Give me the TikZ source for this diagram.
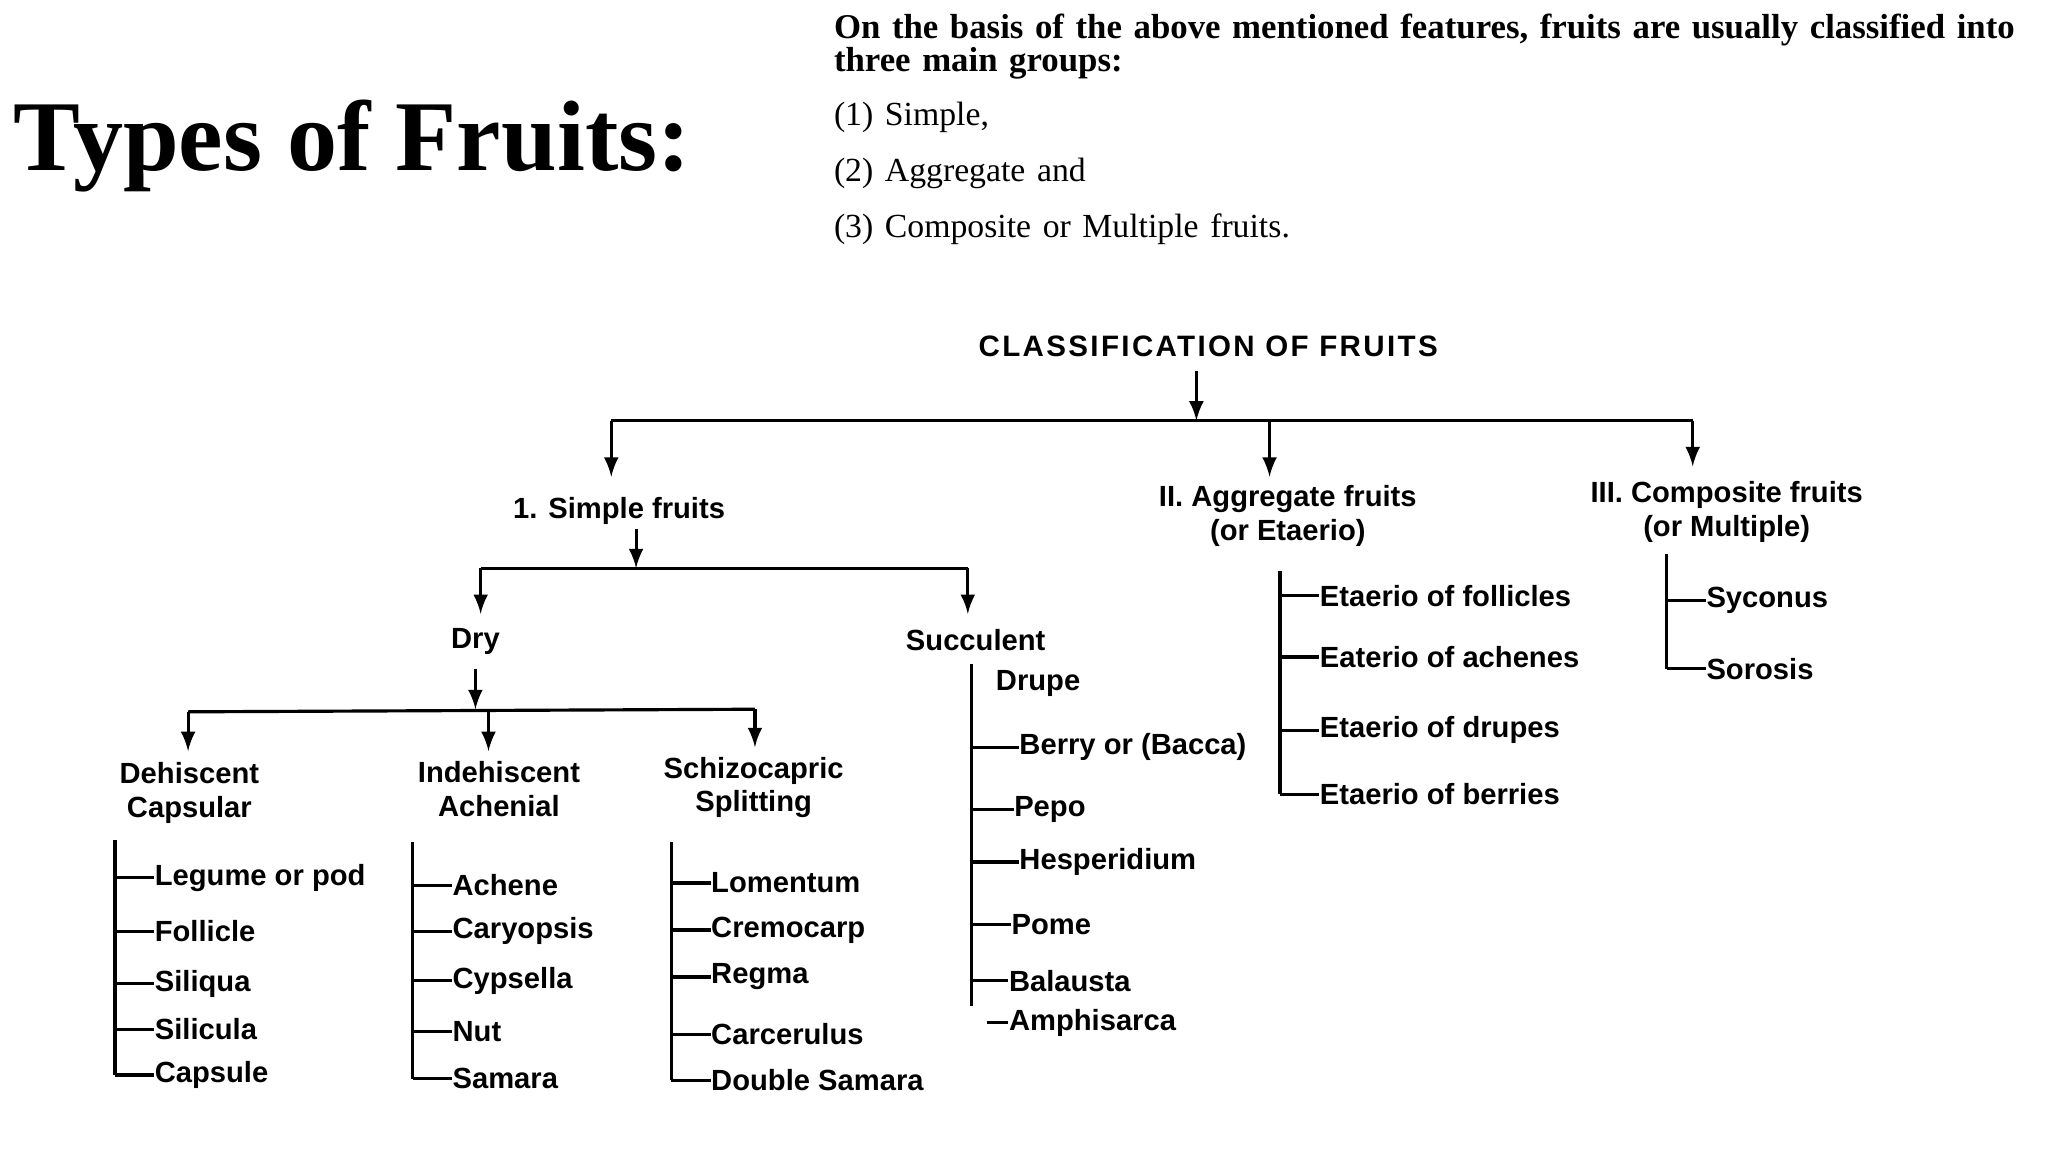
\documentclass[tikz,border=0pt]{standalone}
\usepackage{fontspec}
\setmainfont{Liberation Serif}
\newfontfamily\dsans{Liberation Sans}
\begin{document}
\begin{tikzpicture}[x=0.01306cm,y=-0.01306cm,
  lab/.style={font=\dsans\bfseries\fontsize{8.3}{9.6}\selectfont, inner sep=0pt, align=center},
  item/.style={font=\dsans\bfseries\fontsize{8.3}{9.6}\selectfont, inner sep=0pt, anchor=west},
  ln/.style={line width=0.9pt},
  arr/.style={line width=0.9pt,-latex}]
\useasboundingbox (0,0) rectangle (1568,882);
\fill[white] (0,0) rectangle (1568,882);
\node[anchor=west,inner sep=0pt,font=\bfseries\fontsize{28.5}{31}\selectfont] (title) at (10,112) {Types of Fruits:};
\node[anchor=north west,inner sep=0pt,align=left,text width=12.2cm,font=\fontsize{9.9}{9.4}\selectfont] (intro) at (638,10)
 {\textbf{On the basis of the above mentioned features, fruits are usually classified into three main groups:}\\[6pt]
 \fontsize{9.6}{9.4}\selectfont (1) Simple,\\[6.5pt] (2) Aggregate and\\[6.5pt] (3) Composite or Multiple fruits.};
% level 0
\node[lab,font=\dsans\bfseries\fontsize{8.4}{9.6}\selectfont\addfontfeature{LetterSpace=8}] (root) at (925,265) {CLASSIFICATION OF FRUITS};
\coordinate (r0) at (916,284); \coordinate (r1) at (916,322);
\draw[arr] (r0) -- (r1);
\coordinate (h1) at (468,322); \coordinate (h2) at (1296,322);
\draw[ln] (h1) -- (h2);
\node[lab] (simple) at (474,391) {1. Simple fruits};
\node[lab] (aggr) at (986,395) {II. Aggregate fruits\\(or Etaerio)};
\node[lab] (comp) at (1322,392) {III. Composite fruits\\(or Multiple)};
\coordinate (a1) at (468,365); \coordinate (a2) at (972,365); \coordinate (a3) at (1296,357);
\coordinate (m2) at (972,322);
\draw[arr] (h1) -- (a1); \draw[arr] (m2) -- (a2); \draw[arr] (h2) -- (a3);
% simple
\coordinate (s0) at (487,405); \coordinate (s1) at (487,435);
\draw[arr] (s0) -- (s1);
\coordinate (sh1) at (368,435); \coordinate (sh2) at (741,435);
\draw[ln] (sh1) -- (sh2);
\coordinate (sd) at (368,470); \coordinate (ss) at (741,470);
\draw[arr] (sh1) -- (sd); \draw[arr] (sh2) -- (ss);
\node[lab] (dry) at (364,491) {Dry};
\node[lab] (succ) at (747,490) {Succulent};
% dry
\coordinate (d0) at (364,512); \coordinate (d1) at (364,543);
\draw[arr] (d0) -- (d1);
\coordinate (dh1) at (144,545); \coordinate (dh2) at (578,543); \coordinate (dm) at (374,544);
\draw[ln] (dh1) -- (dh2);
\coordinate (e1) at (144,575); \coordinate (e2) at (374,575); \coordinate (e3) at (578,572);
\draw[arr] (dh1) -- (e1); \draw[arr] (dm) -- (e2); \draw[arr] (dh2) -- (e3);
\node[lab] (dehis) at (145,607) {Dehiscent\\Capsular};
\node[lab] (indeh) at (382,604) {Indehiscent\\Achenial};
\node[lab] (schiz) at (577,603) {Schizocapric\\Splitting};
% lists
\newcommand{\flist}[4]{%
  \coordinate (#1t) at (#1,#2); \coordinate (#1b) at (#1,#3);
  \draw[ln] (#1t) -- (#1b);
  \foreach \yy/\tt [count=\i] in {#4} {
    \coordinate (#1c\i) at (#1,\yy);
    \node[item] (#1n\i) at (#1+30,\yy) {\tt};
    \draw[ln] (#1c\i) -- (#1n\i.west);
  }}
\flist{88}{643}{823}{672/Legume or pod,713/Follicle,753/Siliqua,788/Silicula,823/Capsule}
\flist{316}{645}{826}{678/Achene,713/Caryopsis,751/Cypsella,790/Nut,826/Samara}
\flist{514}{645}{827}{676/Lomentum,712/Cremocarp,748/Regma,792/Carcerulus,827/Double Samara}
\flist{980}{437}{608}{456/Etaerio of follicles,503/Eaterio of achenes,559/Etaerio of drupes,608/Etaerio of berries}
\flist{1276}{424}{512}{460/Syconus,512/Sorosis}
% succulent
\coordinate (st) at (744,508); \coordinate (sb) at (744,770);
\draw[ln] (st) -- (sb);
\node[item] (drupe) at (762,523) {Drupe};
\foreach \yy/\xx/\tt [count=\i] in {572/780/Berry or (Bacca),620/776/Pepo,660/780/Hesperidium,708/774/Pome,751/772/Balausta} {
  \coordinate (sc\i) at (744,\yy);
  \node[item] (sn\i) at (\xx,\yy) {\tt};
  \draw[ln] (sc\i) -- (sn\i.west);
}
\node[item] (amph) at (772,783) {Amphisarca};
\coordinate (amc) at (756,783);
\draw[ln] (amc) -- (amph.west);
\end{tikzpicture}
\end{document}
